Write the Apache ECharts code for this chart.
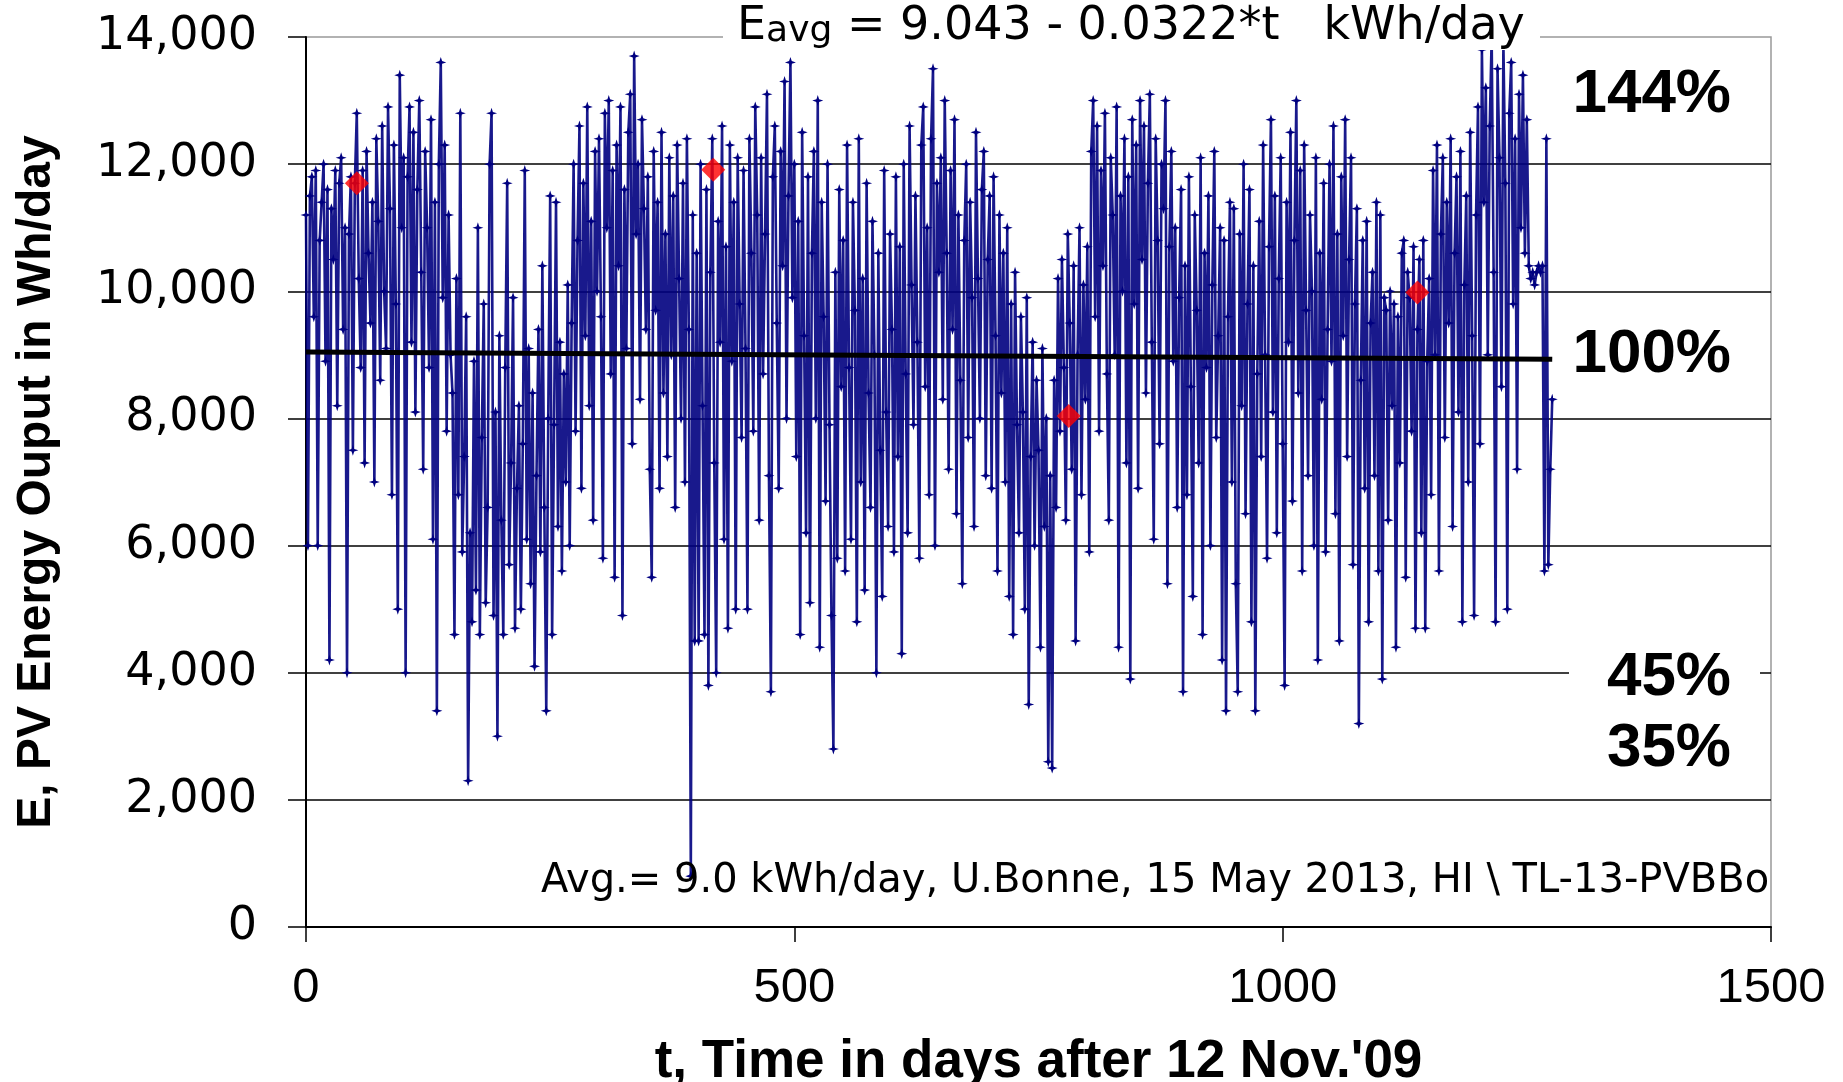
<!DOCTYPE html>
<html><head><meta charset="utf-8">
<script src="https://cdn.jsdelivr.net/npm/echarts@6/dist/echarts.min.js"></script>
<style>html,body{margin:0;padding:0;background:#fff}#c{width:1843px;height:1082px}</style>
</head><body><div id="c"></div>
<script>
// ---- data (daily PV energy, read approx. from the picture, every 2nd day, kWh/day) ----
const dayStep = 2;
const xTicks = [0, 500, 1000, 1500];
const yTicks = [0, 2000, 4000, 6000, 8000, 10000, 12000, 14000];

const energyKWh_A = [ // t = 0 .. 348
11.2,6.0,11.5,11.8,9.6,11.9,6.0,10.8,11.4,12.0,8.9,11.6,4.2,11.3,10.5,11.9,8.2,11.7,12.1,9.4,11.0,4.0,10.9,11.8,7.5,
11.7,12.8,10.2,8.8,11.9,7.3,12.2,10.6,9.5,11.4,7.0,12.4,11.1,8.6,12.6,10.0,9.1,12.9,11.3,6.8,12.3,9.8,5.0,13.4,11.0,
12.1,4.0,11.8,12.9,9.2,12.5,8.1,11.6,13.0,10.3,7.2,12.2,11.0,8.8,12.7,6.1,11.4,3.4,12.0,13.6,9.9,12.3,7.8,11.2,9.0,
8.4,4.6,10.2,6.8,12.8,5.9,7.4,9.6,2.3,6.2,4.8,8.9,5.3,11.0,4.6,7.7,9.8,5.1,6.6,12.0,12.8,4.9,8.1,3.0,9.3,
6.4,4.6,8.8,11.7,5.7,7.3,9.9,4.7,6.9,8.2,5.0,7.6,11.9,6.1,9.1,5.4,8.4,4.1,7.1,9.4,5.9,10.4,6.6,3.4,8.0,
11.5,4.6,7.9,11.4,6.3,9.2,5.6,8.7,7.0,10.1,6.0,9.5,12.0,7.8,10.8,12.6,6.9,11.7,9.3,12.9,8.2,11.1,6.4,12.2,10.0,
12.4,9.6,5.8,12.8,11.0,13.0,8.7,11.9,5.5,12.3,10.4,12.9,4.9,11.6,9.1,12.5,13.1,7.6,13.7,10.9,12.0,8.3,12.7,11.3,9.4
];
const energyKWh_B = [ // t = 350 .. 648
11.8,7.2,5.5,12.2,9.7,11.4,6.9,12.5,8.4,10.9,7.4,12.1,9.0,11.5,6.6,12.3,10.2,8.0,11.7,7.0,12.4,9.4,0.8,11.2,4.5,
10.6,4.5,12.0,8.2,4.6,11.6,3.8,10.3,12.4,7.3,4.0,11.1,9.2,12.6,6.1,10.7,4.7,12.3,8.9,11.4,5.0,12.1,9.8,7.7,11.9,
9.1,5.0,12.4,10.6,7.8,12.9,11.2,6.4,12.1,8.7,10.9,13.1,7.1,3.7,11.8,12.6,9.5,6.9,12.2,10.4,13.3,8.0,11.5,13.6,9.9,
12.0,7.4,11.1,4.6,12.5,9.3,6.2,11.8,5.1,10.6,12.2,8.0,13.0,4.4,11.4,9.6,6.7,12.0,7.9,4.9,2.8,10.3,5.8,11.6,8.5,
10.8,5.6,12.3,8.8,6.1,11.4,9.7,4.8,12.4,7.0,10.2,5.3,11.7,8.4,6.6,11.1,9.0,4.0,10.6,7.5,5.2,11.9,8.1,6.3,10.9,
9.4,5.9,11.8,7.4,10.7,4.3,12.0,8.7,6.2,12.6,10.1,7.9,11.5,9.2,5.8,12.3,12.9,8.5,11.0,6.8,12.4,13.5,6.0,11.7,10.3
];
const energyKWh_C = [ // t = 650 .. 948
12.1,8.3,13.0,10.6,7.2,11.9,9.4,12.7,6.5,11.2,8.6,5.4,10.8,12.0,7.7,11.4,9.9,6.3,12.5,10.2,8.0,11.6,12.2,7.1,10.5,
11.5,6.9,11.8,9.3,5.6,11.2,8.4,10.6,7.0,11.0,5.2,9.8,4.6,10.3,7.9,6.2,9.6,8.1,5.0,9.9,3.5,7.4,9.2,6.0,8.6,
7.5,4.4,9.1,6.3,8.0,2.6,7.1,2.5,8.6,6.6,10.2,7.8,10.5,8.8,6.4,10.9,9.5,7.2,10.4,4.5,9.0,11.0,6.8,10.1,8.3,
10.7,5.9,12.2,13.0,9.6,12.6,7.8,11.9,10.4,12.8,8.7,6.4,12.1,11.2,9.0,12.9,4.4,11.5,10.0,12.4,7.3,11.8,3.9,12.7,9.8,
12.3,6.9,13.0,10.5,12.6,8.4,11.7,13.1,9.2,6.1,12.4,10.8,7.6,12.0,11.3,13.0,5.4,10.7,12.2,8.9,11.0,6.6,9.9,11.6,3.7,
10.4,6.8,11.8,8.5,5.2,11.2,9.7,7.3,12.1,4.6,10.6,8.8,11.5,6.0,10.1,12.2,7.7,9.3,11.0,4.2,10.8,3.4,9.6,11.4,7.0
];
const energyKWh_D = [ // t = 950 .. 1276
11.3,5.4,3.7,10.9,8.2,12.0,6.5,9.8,11.6,4.8,10.4,3.4,8.7,11.1,7.4,12.3,9.0,5.8,10.7,12.7,8.1,11.5,6.2,10.2,12.1,
7.6,3.8,11.4,9.2,12.5,6.7,10.8,13.0,8.4,11.9,5.6,12.3,9.7,7.1,11.2,10.0,6.0,12.1,4.2,10.6,8.3,11.7,5.9,9.4,12.0,
8.9,12.6,6.5,10.9,4.5,11.8,9.3,12.7,7.4,10.5,12.1,5.7,9.8,11.3,3.2,8.6,10.8,6.9,11.1,4.8,9.5,10.3,7.1,11.4,5.6,
11.2,3.9,9.9,9.7,6.4,10.0,8.2,9.8,4.4,9.6,7.3,10.6,10.8,5.5,10.3,9.9,7.8,10.7,4.7,9.4,10.5,6.2,10.8,4.7,8.9,
10.2,6.8,11.9,9.0,12.3,5.6,10.9,12.1,7.7,11.4,9.5,12.4,6.3,10.6,11.8,8.1,12.2,4.8,10.1,11.5,7.0,12.5,9.3,4.9,11.2,
12.9,7.6,13.8,11.4,13.2,9.0,12.6,14.0,10.3,4.8,13.5,12.1,8.5,13.9,11.7,5.0,12.8,13.6,9.8,12.4,7.2,13.1,11.0,13.4,10.6,
12.7,10.4,10.2,10.3,10.1,10.3,10.4,10.3,10.4,5.6,12.4,5.7,7.2,8.3
];

const redDays = [52, 417, 781, 1138];
const redValuesWh = [11700, 11910, 8040, 9980];

const trendDays = [0, 1276];
const trendValuesWh = [9043, 8930];

const pctLabels = ['144%', '100%', '45%', '35%'];

// ---- build series data ----
const energyKWh = [].concat(energyKWh_A, energyKWh_B, energyKWh_C, energyKWh_D);
const pvData = energyKWh.map((v, i) => [i * dayStep, v * 1000]);
const redData = redDays.map((d, i) => [d, redValuesWh[i]]);
const trendData = trendDays.map((d, i) => [d, trendValuesWh[i]]);

const chart = echarts.init(document.getElementById('c'), null, {renderer: 'canvas'});
const starPath = 'path://M5,0 L6.2,3.8 L10,5 L6.2,6.2 L5,10 L3.8,6.2 L0,5 L3.8,3.8 Z';

const pctPos = [[1731, 95], [1731, 355], [1731, 678], [1731, 749]];

const option = {
  animation: false,
  backgroundColor: '#ffffff',
  grid: {left: 306, right: 72, top: 37, bottom: 155, show: true, borderColor: '#999', borderWidth: 1.5,
         backgroundColor: 'transparent', containLabel: false, outerBoundsMode: 'none'},
  xAxis: {
    type: 'value', min: xTicks[0], max: xTicks[xTicks.length - 1], interval: 500,
    axisLine: {show: true, onZero: false, lineStyle: {color: '#000', width: 2}},
    axisTick: {show: true, inside: false, length: 15, lineStyle: {color: '#000', width: 1.5}},
    axisLabel: {margin: 37, fontFamily: 'Liberation Sans', fontSize: 49, color: '#000', formatter: v => String(v)},
    splitLine: {show: false},
    name: "t, Time in days after 12 Nov.'09", nameLocation: 'middle', nameGap: 109,
    nameTextStyle: {fontFamily: 'Liberation Sans', fontWeight: 'bold', fontSize: 53, color: '#000'}
  },
  yAxis: {
    type: 'value', min: yTicks[0], max: yTicks[yTicks.length - 1], interval: 2000,
    axisLine: {show: true, onZero: false, lineStyle: {color: '#000', width: 2}},
    axisTick: {show: true, inside: false, length: 18, lineStyle: {color: '#000', width: 1.5}},
    axisLabel: {margin: 49, fontFamily: 'DejaVu Sans', fontSize: 46, color: '#000',
      formatter: v => v.toLocaleString('en-US')},
    splitLine: {show: true, showMinLine: false, showMaxLine: false, lineStyle: {color: '#000', width: 1.5}},
    name: 'E, PV Energy Ouput in Wh/day', nameLocation: 'middle', nameGap: 245,
    nameTextStyle: {fontFamily: 'Liberation Sans', fontWeight: 'bold', fontSize: 48, color: '#000'}
  },
  series: [
    {
      type: 'line', data: pvData, sampling: false, z: 2,
      symbol: starPath, symbolSize: 11, showSymbol: true,
      lineStyle: {color: '#000080', width: 2.6, opacity: 0.9},
      itemStyle: {color: '#000080'}
    },
    {
      type: 'line', data: trendData, z: 3, symbol: 'none',
      lineStyle: {color: '#000', width: 5}
    },
    {
      type: 'scatter', data: redData, z: 4, symbol: 'diamond', symbolSize: 24,
      itemStyle: {color: '#ff0000'}
    }
  ],
  graphic: [
    {type: 'rect', z: 100, shape: {x: 723, y: 0, width: 817, height: 50}, style: {fill: '#fff'}},
    {type: 'text', z: 101, x: 737, y: 27, style: {
      text: '{e|E}{s|avg}{e| = 9.043 - 0.0322*t   kWh/day}',
      verticalAlign: 'middle', align: 'left',
      rich: {
        e: {fontFamily: 'DejaVu Sans', fontSize: 46, lineHeight: 46, verticalAlign: 'bottom', fill: '#000'},
        s: {fontFamily: 'DejaVu Sans', fontSize: 36, lineHeight: 36, verticalAlign: 'bottom', fill: '#000'}
      }
    }},
    {type: 'rect', z: 100, shape: {x: 1553, y: 317, width: 207, height: 81}, style: {fill: '#fff'}},
    {type: 'rect', z: 100, shape: {x: 1569, y: 640, width: 191, height: 150}, style: {fill: '#fff'}},
    ...pctLabels.map((t, i) => ({type: 'text', z: 101, x: pctPos[i][0], y: pctPos[i][1], style: {
      text: t, align: 'right', verticalAlign: 'middle', fontFamily: 'Liberation Sans', fontWeight: 'bold', fontSize: 62, fill: '#000'}})),
    {type: 'text', z: 101, x: 541, y: 882, style: {
      text: 'Avg.= 9.0 kWh/day, U.Bonne, 15 May 2013, HI \\ TL-13-PVBBo',
      align: 'left', verticalAlign: 'middle', fontFamily: 'DejaVu Sans', fontSize: 40, fill: '#000'}}
  ]
};
chart.setOption(option);
</script></body></html>
